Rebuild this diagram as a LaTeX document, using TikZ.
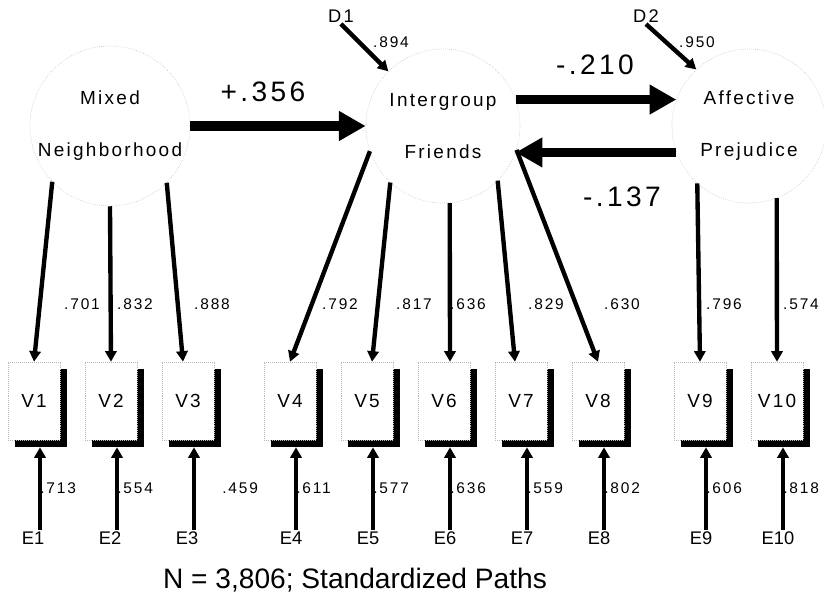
\documentclass[tikz,border=0pt]{standalone}
\usepackage{fontspec}
\setmainfont{Liberation Sans}
\newfontfamily\trackfont[LetterSpace=12]{Liberation Sans}
\usepackage{tikz}
\usetikzlibrary{calc, arrows.meta, shadows}
\tikzset{>=latex}
\tikzset{latent/.style={circle, draw=gray!55, densely dotted, minimum size=3.85cm, inner sep=0pt, align=center, font=\trackfont\fontsize{13.5}{37}\selectfont},
  indicator/.style={rectangle, draw=gray!55, densely dotted, fill=white, minimum width=1.3cm, minimum height=1.95cm, inner sep=0pt, font=\trackfont\fontsize{13.5}{15}\selectfont, drop shadow={shadow xshift=0.175cm, shadow yshift=-0.175cm, fill=black, opacity=1}},
  load/.style={-{Triangle[length=7.5pt,width=8pt]}, line width=3.1pt},
  bigpath/.style={-{Triangle[length=19pt,width=20pt]}, line width=7pt},
  coef/.style={inner sep=0pt, font=\trackfont\fontsize{11}{13}\selectfont},
  bigcoef/.style={inner sep=0pt, font=\trackfont\fontsize{20}{23}\selectfont},
  errlab/.style={inner sep=1pt, font=\fontsize{13}{15}\selectfont}}

\begin{document}
\begin{tikzpicture}[x=0.025cm, y=-0.025cm]
\useasboundingbox (0,0) rectangle (824,598);
\node[latent] (MN) at (110,126) {Mixed\\Neighborhood};
\node[latent] (IF) at (443,126) {Intergroup\\Friends};
\node[latent] (AP) at (749,126) {Affective\\Prejudice};
\node[indicator] (V1) at (34,401) {V1};
\node[indicator] (V2) at (111,401) {V2};
\node[indicator] (V3) at (188,401) {V3};
\node[indicator] (V4) at (290,401) {V4};
\node[indicator] (V5) at (367,401) {V5};
\node[indicator] (V6) at (444,401) {V6};
\node[indicator] (V7) at (521,401) {V7};
\node[indicator] (V8) at (598,401) {V8};
\node[indicator] (V9) at (700,401) {V9};
\node[indicator] (V10) at (777,401) {V10};
\node[errlab] (E1) at (33,538) {E1};
\node[errlab] (E2) at (110,538) {E2};
\node[errlab] (E3) at (187,538) {E3};
\node[errlab] (E4) at (291,538) {E4};
\node[errlab] (E5) at (368,538) {E5};
\node[errlab] (E6) at (445,538) {E6};
\node[errlab] (E7) at (522,538) {E7};
\node[errlab] (E8) at (599,538) {E8};
\node[errlab] (E9) at (701,538) {E9};
\node[errlab] (E10) at (778,538) {E10};
\node[errlab, font=\trackfont\fontsize{13}{15}\selectfont] (D1) at (341,16) {D1};
\node[errlab, font=\trackfont\fontsize{13}{15}\selectfont] (D2) at (646,16) {D2};
\draw[bigpath] (MN.east) -- (IF.west);
\draw[bigpath] (IF.20) -- (AP.160);
\draw[bigpath] (AP.200) -- (IF.-20);
\node[bigcoef] (c1) at (263,92) {+.356};
\node[bigcoef] (c2) at (595,65) {-.210};
\node[bigcoef] (c3) at (622,197) {-.137};
\draw[load] (D1.south) -- (IF.135);
\draw[load] (D2.south) -- (AP.133);
\node[coef] (d1) at (391,42) {.894};
\node[coef] (d2) at (697,42) {.950};
\draw[load] (MN.224) -- (V1.north);
\draw[load] (MN.270) -- (V2.north);
\draw[load] (MN.315) -- ([shift={(-5,0)}]V3.north);
\draw[load] (IF.199) -- (V4.north);
\draw[load] (IF.227) -- ([shift={(5,0)}]V5.north);
\draw[load] (IF.275) -- ([shift={(6,0)}]V6.north);
\draw[load] (IF.315) -- ([shift={(-6,0)}]V7.north);
\draw[load] (IF.342) -- (V8.north);
\draw[load] (AP.228) -- (V9.north);
\draw[load] (AP.291) -- (V10.north);
\node[coef] (l1) at (82,304) {.701};
\node[coef] (l2) at (135,304) {.832};
\node[coef] (l3) at (212,304) {.888};
\node[coef] (l4) at (340,304) {.792};
\node[coef] (l5) at (414,304) {.817};
\node[coef] (l6) at (468,304) {.636};
\node[coef] (l7) at (546,304) {.829};
\node[coef] (l8) at (622,304) {.630};
\node[coef] (l9) at (724,304) {.796};
\node[coef] (l10) at (801,304) {.574};
\draw[load] ([shift={(7,0)}]E1.north) -- ([shift={(6,7)}]V1.south);
\draw[load] ([shift={(7,0)}]E2.north) -- ([shift={(6,7)}]V2.south);
\draw[load] ([shift={(7,0)}]E3.north) -- ([shift={(6,7)}]V3.south);
\draw[load] ([shift={(5,0)}]E4.north) -- ([shift={(6,7)}]V4.south);
\draw[load] ([shift={(5,0)}]E5.north) -- ([shift={(6,7)}]V5.south);
\draw[load] ([shift={(5,0)}]E6.north) -- ([shift={(6,7)}]V6.south);
\draw[load] ([shift={(5,0)}]E7.north) -- ([shift={(6,7)}]V7.south);
\draw[load] ([shift={(5,0)}]E8.north) -- ([shift={(6,7)}]V8.south);
\draw[load] ([shift={(5,0)}]E9.north) -- ([shift={(6,7)}]V9.south);
\draw[load] ([shift={(5,0)}]E10.north) -- ([shift={(6,7)}]V10.south);
\node[coef, anchor=west] (r1) at (40,488) {.713};
\node[coef, anchor=west] (r2) at (117,488) {.554};
\node[coef, anchor=west] (r3) at (222,488) {.459};
\node[coef, anchor=west] (r4) at (296,488) {.611};
\node[coef, anchor=west] (r5) at (373,488) {.577};
\node[coef, anchor=west] (r6) at (450,488) {.636};
\node[coef, anchor=west] (r7) at (527,488) {.559};
\node[coef, anchor=west] (r8) at (604,488) {.802};
\node[coef, anchor=west] (r9) at (706,488) {.606};
\node[coef, anchor=west] (r10) at (783,488) {.818};
\node[font=\fontsize{20}{23}\selectfont] (cap) at (355,580) {N = 3,806; Standardized Paths};
\end{tikzpicture}
\end{document}
